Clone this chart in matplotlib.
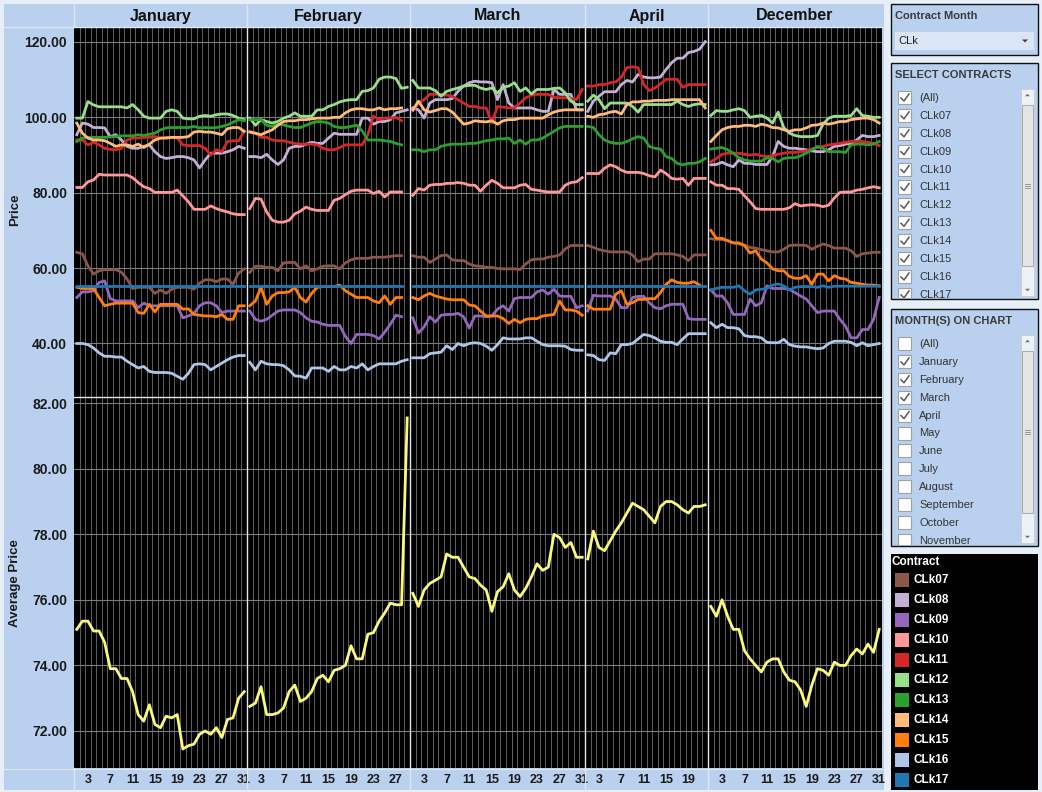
import matplotlib.pyplot as plt
from matplotlib.patches import Rectangle, Polygon
from matplotlib.lines import Line2D

plt.rcParams['font.family'] = ['Liberation Sans', 'DejaVu Sans']

# ---- data ----
months = ["January", "February", "March", "April", "December"]
month_days = [31, 29, 31, 22, 31]
contracts = ["CLk07", "CLk08", "CLk09", "CLk10", "CLk11", "CLk12",
             "CLk13", "CLk14", "CLk15", "CLk16", "CLk17"]
contract_colors = ["#8c564b", "#c5b0d5", "#9467bd", "#ff9896", "#d62728", "#98df8a",
                   "#2ca02c", "#ffbb78", "#ff7f0e", "#aec7e8", "#1f77b4"]

clk07 = {
    "January": [64.2, 63.8, 60.6, 58.4, 59.3, 59.6, 59.6, 59.6, 58.9, 57.1, 54.6, 54.9, 54.9, 54.9, 53.3, 54.2,
                53.3, 54.4, 54.9, 54.9, 54.9, 54.4, 56.0, 56.9, 56.9, 56.4, 57.1, 57.1, 55.7, 58.7, 59.8],
    "February": [58.9, 60.5, 60.5, 60.2, 60.2, 59.3, 61.4, 61.5, 61.5, 59.8, 60.6, 59.3, 59.8, 60.5, 60.6, 60.6,
                 59.8, 61.4, 62.2, 62.6, 62.6, 62.6, 62.9, 62.9, 62.9, 63.1, 63.3, 63.3],
    "March": [63.3, 62.9, 62.9, 61.5, 62.4, 63.3, 63.5, 62.2, 62.0, 62.0, 61.1, 60.6, 60.5, 60.2, 60.2, 59.9,
              59.8, 59.8, 59.8, 59.6, 61.1, 62.2, 62.4, 62.4, 62.9, 63.1, 63.5, 65.1, 66.0, 66.0, 66.0],
    "April": [66.0, 65.5, 64.9, 64.6, 64.3, 64.3, 64.3, 64.3, 63.5, 61.7, 62.4, 62.4, 63.8, 63.8, 63.8, 63.8,
              63.5, 63.1, 62.0, 63.5, 63.5, 63.5],
    "December": [67.8, 67.6, 67.6, 67.3, 66.7, 66.4, 66.1, 65.5, 65.3, 64.9, 64.6, 64.3, 64.3, 65.0, 66.0, 66.1,
                 66.1, 66.0, 65.0, 65.8, 66.4, 66.0, 65.3, 65.3, 65.3, 64.6, 63.1, 63.8, 64.0, 64.2, 64.2],
}
clk08 = {
    "January": [95.4, 98.5, 98.2, 97.3, 97.3, 97.2, 94.9, 95.4, 94.0, 92.3, 91.8, 91.8, 92.3, 92.7, 90.9, 89.6,
                89.1, 89.3, 89.6, 89.6, 89.3, 88.7, 86.6, 88.7, 90.5, 90.5, 90.5, 90.9, 91.4, 92.3, 91.8],
    "February": [89.6, 89.6, 89.3, 90.2, 88.7, 87.5, 88.7, 91.8, 92.3, 92.3, 92.9, 93.4, 93.1, 93.1, 94.5, 95.8,
                 95.5, 95.5, 95.5, 95.5, 99.8, 99.8, 98.2, 98.9, 98.9, 99.4, 101.2, 101.6, 102.0],
    "March": [102.5, 102.0, 99.8, 103.8, 104.7, 104.7, 104.7, 105.0, 106.9, 108.3, 109.2, 109.6, 109.4, 109.4,
              109.2, 104.7, 108.7, 103.8, 102.5, 102.5, 102.5, 102.5, 102.0, 101.6, 101.6, 107.4, 106.1, 106.1,
              106.1, 102.0, 102.0],
    "April": [101.6, 104.3, 105.6, 106.8, 106.8, 106.8, 108.7, 109.8, 109.4, 111.4, 110.7, 110.5, 110.5, 110.7,
              112.7, 114.5, 115.7, 115.7, 117.2, 117.5, 118.1, 120.1],
    "December": [87.4, 87.5, 88.1, 87.4, 86.9, 88.7, 87.8, 87.8, 87.5, 87.5, 87.5, 89.6, 93.6, 92.3, 91.8, 91.8,
                 91.6, 91.4, 91.1, 90.9, 90.9, 91.4, 92.3, 92.5, 92.9, 93.1, 94.0, 95.2, 94.9, 94.9, 95.2],
}
clk09 = {
    "January": [52.2, 53.7, 53.7, 54.0, 56.2, 56.6, 51.9, 51.3, 51.3, 51.3, 51.3, 49.5, 50.7, 50.0, 50.0, 50.0,
                50.0, 50.0, 50.0, 46.8, 47.3, 48.0, 50.0, 50.8, 50.8, 50.0, 48.2, 48.6, 48.6, 48.6, 48.6],
    "February": [48.6, 46.4, 45.9, 46.4, 47.5, 48.6, 48.9, 48.9, 48.9, 48.2, 46.8, 45.9, 45.7, 45.1, 44.8, 44.8,
                 44.8, 41.9, 40.0, 42.4, 42.4, 42.4, 42.1, 41.2, 43.0, 45.1, 47.5, 47.1],
    "March": [46.8, 42.8, 44.4, 47.1, 45.7, 47.5, 47.7, 47.7, 48.0, 47.1, 44.1, 47.3, 47.3, 47.1, 47.3, 49.1,
              50.0, 48.6, 51.9, 52.2, 52.2, 52.2, 53.7, 54.2, 53.1, 54.4, 52.6, 52.5, 52.5, 49.5, 50.0],
    "April": [48.6, 52.8, 52.6, 52.6, 52.6, 51.8, 49.5, 49.5, 52.2, 52.5, 52.5, 50.8, 49.5, 49.2, 50.0, 50.4,
              50.4, 50.4, 46.6, 46.4, 46.4, 46.4],
    "December": [54.2, 52.6, 52.6, 50.8, 47.7, 47.7, 47.7, 51.8, 50.0, 50.8, 55.3, 54.6, 54.6, 54.6, 54.4, 53.5,
                 52.6, 51.8, 50.0, 48.2, 48.6, 48.6, 48.6, 46.4, 44.6, 41.5, 41.5, 43.7, 43.7, 46.4, 52.2],
}
clk10 = {
    "January": [81.4, 81.4, 82.9, 83.4, 84.9, 84.7, 84.7, 84.7, 84.7, 84.7, 84.0, 82.7, 81.6, 81.1, 80.1, 80.1,
                80.1, 80.1, 80.7, 79.2, 77.6, 75.6, 75.6, 75.6, 76.5, 75.8, 75.3, 74.9, 74.4, 74.2, 74.2],
    "February": [75.8, 78.5, 78.3, 74.9, 72.7, 72.2, 72.2, 72.7, 74.4, 75.1, 76.2, 75.6, 75.3, 75.3, 75.3, 78.0,
                 78.5, 79.5, 80.4, 80.7, 80.7, 80.7, 79.8, 80.4, 78.9, 80.2, 80.2, 80.2],
    "March": [79.3, 81.1, 80.7, 82.0, 82.2, 82.2, 82.5, 82.5, 82.7, 82.5, 82.0, 82.0, 80.4, 82.0, 83.3, 82.5,
              81.3, 81.3, 81.3, 82.0, 82.2, 80.9, 80.7, 80.4, 80.2, 80.2, 80.2, 82.0, 82.7, 82.9, 84.0],
    "April": [85.1, 85.1, 85.1, 86.5, 87.4, 86.9, 86.0, 85.4, 85.4, 85.4, 85.1, 84.5, 84.2, 86.0, 85.1, 83.8,
              83.6, 83.8, 82.0, 83.8, 83.8, 83.8],
    "December": [82.9, 82.0, 82.0, 81.1, 81.1, 80.9, 79.2, 77.6, 75.8, 75.6, 75.6, 75.6, 75.6, 75.6, 76.0, 77.1,
                 76.5, 76.7, 76.8, 76.7, 76.3, 76.7, 78.6, 80.1, 80.2, 80.2, 80.7, 80.9, 81.3, 81.6, 81.3],
}
clk11 = {
    "January": [94.0, 94.0, 92.7, 93.4, 92.7, 91.8, 91.5, 91.4, 91.8, 94.0, 94.5, 94.5, 94.7, 94.7, 94.9, 94.5,
                94.7, 94.7, 94.5, 92.7, 92.5, 92.5, 92.5, 91.8, 90.0, 91.4, 90.9, 93.6, 93.8, 93.8, 96.3],
    "February": [96.3, 95.8, 94.7, 94.7, 94.0, 93.8, 93.8, 93.4, 93.1, 92.9, 92.9, 92.9, 92.7, 91.8, 91.4, 91.4,
                 92.0, 92.7, 92.7, 92.7, 92.7, 95.4, 100.3, 99.4, 99.8, 99.8, 100.0, 99.1],
    "March": [101.8, 103.8, 104.7, 106.1, 106.1, 106.1, 105.9, 105.6, 104.7, 103.8, 102.9, 102.9, 102.5, 102.5,
              98.5, 102.9, 102.7, 102.5, 102.5, 103.8, 105.2, 105.9, 106.1, 106.1, 106.1, 105.3, 105.2, 105.2,
              105.0, 104.7, 107.4],
    "April": [108.3, 108.3, 108.7, 108.7, 109.2, 109.4, 110.7, 113.2, 113.4, 113.2, 108.7, 107.1, 107.8, 108.9,
              110.1, 110.1, 110.1, 108.0, 108.7, 108.7, 108.7, 108.7],
    "December": [88.2, 89.1, 90.2, 90.5, 90.5, 90.5, 90.2, 90.0, 90.2, 89.8, 89.6, 89.8, 90.2, 90.5, 90.7, 90.7,
                 90.9, 91.1, 91.6, 92.0, 92.3, 92.7, 92.9, 93.1, 93.4, 93.6, 93.6, 93.6, 93.4, 93.1, 92.5],
}
clk12 = {
    "January": [99.8, 99.8, 104.2, 103.3, 102.8, 102.8, 102.8, 102.8, 102.8, 102.5, 103.4, 102.0, 100.3, 99.8,
                99.8, 99.8, 101.6, 102.0, 101.6, 99.8, 99.6, 99.6, 100.3, 100.5, 100.3, 100.7, 100.9, 100.9, 100.5,
                99.8, 99.4],
    "February": [99.8, 97.9, 99.4, 98.9, 98.5, 98.9, 99.8, 100.3, 101.2, 100.3, 100.3, 100.3, 102.0, 102.0, 102.9,
                 103.4, 104.1, 104.5, 104.7, 104.7, 106.9, 107.1, 107.8, 110.1, 110.7, 110.7, 110.3, 107.7, 108.0],
    "March": [109.8, 107.8, 107.8, 107.8, 107.1, 105.6, 106.9, 107.4, 107.8, 108.3, 108.5, 108.5, 107.8, 107.4,
              107.8, 106.5, 108.0, 108.3, 109.2, 106.9, 107.8, 106.2, 107.4, 107.4, 107.4, 107.7, 107.8, 106.5,
              104.3, 103.4, 103.4],
    "April": [104.3, 105.9, 104.7, 102.3, 103.8, 103.8, 103.8, 103.8, 102.9, 101.4, 103.4, 103.4, 103.4, 103.4,
              103.4, 103.4, 104.3, 103.4, 102.9, 103.4, 103.6, 103.4],
    "December": [100.5, 101.8, 101.6, 101.6, 102.0, 102.3, 101.8, 100.0, 100.3, 100.5, 99.8, 98.5, 101.4, 97.3,
                 95.8, 95.2, 94.9, 94.9, 94.9, 95.2, 98.2, 99.8, 100.3, 100.3, 100.3, 100.5, 102.3, 100.5, 100.3,
                 100.0, 100.0],
}
clk13 = {
    "January": [93.6, 94.5, 94.7, 94.7, 94.7, 94.7, 94.8, 94.9, 95.1, 95.1, 95.1, 95.4, 95.2, 95.5, 95.8, 96.7,
                97.2, 97.3, 97.3, 97.3, 97.3, 97.6, 97.2, 97.3, 97.2, 97.3, 97.6, 98.0, 98.7, 99.4, 99.1],
    "February": [99.4, 99.4, 99.4, 97.9, 97.6, 98.2, 98.0, 97.6, 97.3, 97.3, 97.9, 98.5, 98.9, 98.8, 98.5, 97.6,
                 97.3, 97.3, 97.6, 97.9, 96.4, 94.0, 94.0, 94.0, 93.8, 93.6, 93.1, 92.7],
    "March": [91.4, 91.4, 90.9, 91.4, 91.4, 92.3, 92.7, 92.9, 92.9, 92.9, 93.1, 93.1, 93.4, 93.8, 94.0, 94.3,
              94.3, 94.5, 93.1, 94.0, 92.9, 94.0, 94.0, 94.5, 95.4, 96.3, 97.2, 97.6, 97.6, 97.6, 97.6],
    "April": [97.6, 97.3, 95.4, 94.0, 93.4, 93.1, 93.1, 93.6, 94.3, 94.9, 94.5, 92.3, 91.8, 91.6, 89.6, 89.1,
              87.8, 87.4, 87.8, 87.8, 88.2, 89.1],
    "December": [91.6, 91.8, 92.0, 91.4, 90.5, 89.3, 88.7, 88.4, 88.4, 88.4, 89.3, 89.1, 88.2, 89.1, 89.3, 89.3,
                 89.8, 90.5, 91.4, 92.3, 91.8, 90.9, 90.9, 90.9, 90.7, 92.7, 92.9, 92.9, 92.7, 92.9, 93.6],
}
clk14 = {
    "January": [98.5, 95.8, 94.5, 94.0, 94.0, 93.8, 93.1, 92.3, 92.7, 92.7, 92.3, 92.9, 92.0, 92.9, 94.0, 94.5,
                94.5, 94.7, 94.7, 94.7, 94.9, 96.1, 96.3, 96.1, 96.1, 95.8, 95.4, 97.0, 97.3, 97.3, 96.3],
    "February": [96.1, 95.8, 95.4, 96.1, 96.7, 97.9, 98.9, 99.1, 99.1, 99.4, 99.4, 99.6, 99.8, 99.8, 99.8, 100.0,
                 100.0, 101.2, 102.0, 102.3, 102.3, 102.0, 102.0, 102.5, 102.0, 102.3, 102.3, 102.5],
    "March": [102.0, 104.3, 102.0, 101.4, 101.8, 102.3, 102.3, 101.4, 99.8, 98.2, 98.5, 99.1, 98.9, 98.8, 99.1,
              98.2, 99.1, 99.4, 99.4, 99.8, 99.8, 99.8, 99.8, 99.8, 100.7, 101.4, 101.8, 102.0, 102.0, 102.0, 102.0],
    "April": [100.3, 100.0, 100.7, 100.9, 101.4, 101.6, 100.9, 103.4, 104.1, 104.1, 104.3, 104.3, 104.5, 104.5,
              104.5, 104.7, 104.7, 104.7, 104.7, 104.7, 104.7, 102.5],
    "December": [93.6, 95.2, 96.7, 97.3, 97.6, 97.6, 97.9, 97.9, 97.6, 98.2, 97.9, 97.3, 97.2, 96.7, 96.3, 96.7,
                 96.7, 97.2, 97.9, 98.0, 98.5, 98.2, 98.5, 98.9, 98.9, 99.4, 99.6, 99.8, 99.8, 99.4, 98.5],
}
clk15 = {
    "January": [54.9, 54.6, 54.6, 54.6, 52.2, 50.0, 50.4, 50.7, 50.7, 50.7, 50.7, 48.2, 48.0, 50.4, 48.4, 50.4,
                50.4, 50.4, 50.4, 49.1, 49.2, 47.7, 47.5, 47.3, 47.3, 47.1, 47.7, 46.4, 46.4, 50.0, 50.0],
    "February": [50.0, 51.3, 54.9, 50.4, 52.6, 53.5, 53.5, 53.7, 54.9, 52.2, 51.0, 53.3, 54.9, 55.1, 55.1, 55.1,
                 55.5, 54.0, 53.1, 52.2, 52.2, 52.2, 51.3, 50.8, 52.6, 50.4, 52.2, 52.2],
    "March": [52.2, 51.6, 52.6, 53.3, 52.6, 52.2, 51.8, 51.6, 51.6, 51.6, 50.2, 50.0, 48.6, 47.3, 47.3, 47.3,
              46.6, 45.3, 46.4, 45.5, 46.4, 46.6, 46.6, 47.3, 47.5, 47.7, 51.3, 48.9, 48.9, 48.6, 47.5],
    "April": [50.0, 49.1, 49.1, 49.1, 49.1, 53.1, 54.0, 50.4, 50.8, 51.7, 51.7, 51.9, 51.9, 53.5, 55.7, 56.9,
              56.2, 56.0, 56.0, 56.4, 55.5],
    "December": [70.0, 67.9, 67.9, 67.3, 66.7, 66.7, 66.0, 64.0, 64.6, 62.4, 61.4, 59.8, 59.3, 59.3, 57.8, 57.3,
                 57.3, 58.0, 55.7, 58.4, 58.4, 56.6, 58.0, 57.3, 57.1, 56.2, 56.0, 55.7, 55.5, 55.5, 55.3],
}
clk16 = {
    "January": [40.0, 40.0, 39.7, 38.8, 37.5, 36.6, 36.6, 36.4, 36.4, 35.3, 34.4, 33.5, 33.9, 32.6, 32.3, 32.3,
                32.3, 32.1, 31.3, 30.5, 32.1, 34.4, 34.6, 34.4, 33.0, 33.9, 34.8, 35.7, 36.4, 36.8, 36.8],
    "February": [35.0, 33.0, 35.3, 34.6, 34.4, 34.4, 34.1, 33.0, 31.4, 31.3, 30.8, 33.5, 33.5, 33.5, 32.6, 33.9,
                 33.0, 33.0, 33.9, 33.5, 34.6, 33.0, 33.9, 34.6, 34.6, 34.6, 34.6, 35.3, 35.7],
    "March": [36.2, 36.2, 36.2, 37.3, 37.5, 37.7, 39.4, 38.4, 40.0, 39.4, 40.0, 40.2, 40.0, 39.3, 38.2, 39.7,
              41.5, 41.2, 41.2, 41.2, 41.5, 41.5, 40.6, 39.7, 39.4, 39.4, 39.4, 39.3, 38.4, 38.2, 38.2],
    "April": [37.0, 36.8, 35.7, 35.5, 37.5, 37.3, 39.7, 39.7, 40.0, 41.2, 42.4, 42.1, 41.5, 40.6, 40.3, 40.3,
              39.7, 41.2, 42.6, 42.6, 42.6, 42.6],
    "December": [45.5, 44.2, 45.1, 44.2, 44.2, 43.9, 42.1, 41.8, 41.8, 41.5, 40.3, 40.2, 40.2, 41.1, 39.7, 39.3,
                 39.1, 39.1, 38.8, 38.6, 38.8, 40.0, 40.6, 40.6, 40.6, 40.3, 39.4, 40.2, 39.4, 39.7, 40.0],
}
clk17 = {
    "January": [55.2] * 31,
    "February": [55.2] * 28,
    "March": [55.2] * 31,
    "April": [55.2] * 22,
    "December": [54.2, 54.6, 54.9, 54.9, 54.9, 55.3, 54.0, 53.1, 54.2, 54.4, 54.6, 55.5, 55.8, 55.3, 54.2, 54.9,
                 55.1, 55.1, 55.1, 54.9, 55.3, 54.9, 55.2, 55.2, 55.2, 55.2, 55.2, 55.2, 55.2, 55.2, 55.2],
}
price_series = [clk07, clk08, clk09, clk10, clk11, clk12, clk13, clk14, clk15, clk16, clk17]

avg_price = {
    "January": [75.1, 75.35, 75.35, 75.05, 75.05, 74.7, 73.9, 73.9, 73.6, 73.6, 73.2, 72.5, 72.3, 72.8, 72.2, 72.1,
                72.45, 72.4, 72.5, 71.45, 71.55, 71.6, 71.9, 72.0, 71.9, 72.1, 71.8, 72.35, 72.4, 73.0, 73.2],
    "February": [72.75, 72.85, 73.35, 72.5, 72.5, 72.55, 72.7, 73.2, 73.4, 72.9, 73.0, 73.2, 73.6, 73.7, 73.5,
                 73.85, 73.9, 74.0, 74.6, 74.2, 74.2, 74.95, 75.0, 75.35, 75.6, 75.9, 75.85, 75.85, 81.55],
    "March": [76.2, 75.8, 76.3, 76.5, 76.6, 76.7, 77.4, 77.3, 77.3, 77.0, 76.7, 76.65, 76.45, 76.3, 75.65, 76.25,
              76.4, 76.8, 76.3, 76.1, 76.35, 76.7, 77.1, 76.9, 77.0, 78.0, 77.9, 77.6, 77.75, 77.3, 77.3],
    "April": [77.25, 78.1, 77.6, 77.5, 77.8, 78.1, 78.35, 78.65, 78.95, 78.85, 78.75, 78.55, 78.35, 78.85, 79.0,
              79.0, 78.9, 78.75, 78.65, 78.85, 78.85, 78.9],
    "December": [75.8, 75.5, 76.0, 75.5, 75.1, 75.1, 74.45, 74.2, 74.0, 73.8, 74.1, 74.2, 74.2, 73.8, 73.55, 73.5,
                 73.25, 72.75, 73.4, 73.9, 73.85, 73.7, 74.1, 74.0, 74.0, 74.3, 74.5, 74.35, 74.65, 74.4, 75.1],
}

price_ticks = [40, 60, 80, 100, 120]
avg_ticks = [72, 74, 76, 78, 80, 82]

contract_list = ["(All)"] + contracts
month_list = ["(All)", "January", "February", "March", "April", "May", "June",
              "July", "August", "September", "October", "November"]
month_checked = [False, True, True, True, True, False, False, False, False, False, False, False]

# ---- figure in pixel coordinates ----
W, H = 1042, 792
panel = "#b9d1ef"
outer = "#e6eef8"
fig = plt.figure(figsize=(W / 100, H / 100), dpi=100)
fig.patch.set_facecolor(outer)


def make_rect(x0, y0, x1, y1, **kw):
    return Rectangle((x0 / W, 1 - y1 / H), (x1 - x0) / W, (y1 - y0) / H,
                     transform=fig.transFigure, **kw)


def px_rect(x0, y0, x1, y1, **kw):
    r = make_rect(x0, y0, x1, y1, **kw)
    fig.add_artist(r)
    return r


def px_text(x, y, s, **kw):
    return fig.text(x / W, 1 - y / H, s, **kw)


def px_line(xs, ys, **kw):
    ln = Line2D([x / W for x in xs], [1 - y / H for y in ys], transform=fig.transFigure, **kw)
    fig.add_artist(ln)
    return ln


def px_tri(cx, cy, up, size=3, color="#606060"):
    if up:
        pts = [(cx - size, cy + size / 2), (cx + size, cy + size / 2), (cx, cy - size / 2)]
    else:
        pts = [(cx - size, cy - size / 2), (cx + size, cy - size / 2), (cx, cy + size / 2)]
    p = Polygon([(x / W, 1 - y / H) for x, y in pts], closed=True, transform=fig.transFigure,
                fc=color, ec="none", zorder=6)
    fig.add_artist(p)


# left dashboard panel
px_rect(4, 4, 884, 790, fc=panel, ec="none", zorder=-5)

bounds = [74, 247, 410, 585, 708, 882]
top_y = (27, 397)
bot_y = (397, 768)


def add_ax(x0, x1, y0, y1):
    return fig.add_axes([x0 / W, 1 - y1 / H, (x1 - x0) / W, (y1 - y0) / H])


for i, month in enumerate(months):
    n = month_days[i]
    x0, x1 = bounds[i], bounds[i + 1]
    px_text((x0 + x1) / 2, 16, month, ha="center", va="center", fontsize=11.5,
            fontweight="bold", color="#111111")

    for row, (y0, y1) in enumerate([top_y, bot_y]):
        ax = add_ax(x0, x1, y0, y1)
        ax.set_facecolor("black")
        for s in ax.spines.values():
            s.set_visible(False)
        ax.set_xlim(0.5, n + 0.5)
        # one thin grey divider per day
        ax.set_xticks([d + 0.5 for d in range(1, n)], minor=True)
        ax.grid(which="minor", axis="x", color="#5c5c5c", lw=0.72)
        ax.tick_params(which="both", length=0)

        if row == 0:
            for c, series in enumerate(price_series):
                vals = series[month]
                ax.plot(range(1, len(vals) + 1), vals, color=contract_colors[c], lw=2.0)
            ax.set_ylim(25.8, 123.98)
            ax.set_yticks(price_ticks)
            ax.set_xticks([])
        else:
            vals = avg_price[month]
            ax.plot(range(1, len(vals) + 1), vals, color="#fbf97c", lw=2.0)
            ax.set_ylim(70.87, 82.19)
            ax.set_yticks(avg_ticks)
            ticks = list(range(3, n + 1, 4))
            ax.set_xticks(ticks)
            ax.set_xticklabels([str(t) for t in ticks], fontsize=9, fontweight="bold",
                               color="#1a1a1a")
            ax.tick_params(axis="x", pad=4)
        ax.grid(which="major", axis="y", color="#7c7c7c", lw=0.8)
        if i == 0:
            ax.set_yticklabels([f"{t:.2f}" for t in ax.get_yticks()], fontsize=10,
                               fontweight="bold", color="#1a1a1a")
            ax.tick_params(axis="y", pad=5)
        else:
            ax.tick_params(axis="y", labelleft=False)

# separators
sep = "#dfe6ee"
for xb in bounds[1:-1]:
    px_line([xb, xb], [5, 790], color=sep, lw=1.0, zorder=5)
px_line([74, 74], [5, 27], color=sep, lw=1.0, zorder=5)
px_line([74, 74], [768, 790], color=sep, lw=1.0, zorder=5)
px_line([4, 884], [27, 27], color=sep, lw=1.0, zorder=5)
px_line([74, 882], [397, 397], color="#e8e8e8", lw=1.0, zorder=5)
px_line([4, 884], [768.5, 768.5], color=sep, lw=0.8, zorder=5)

px_text(15, 210, "Price", rotation=90, ha="center", va="center", fontsize=9.5,
        fontweight="bold", color="#1a1a1a")
px_text(15, 583, "Average Price", rotation=90, ha="center", va="center", fontsize=9.5,
        fontweight="bold", color="#1a1a1a")

# ---- right side controls ----
title_col = "#3a3a3a"
item_col = "#333333"
bx0, bx1 = 891, 1038

# Contract Month dropdown
px_rect(bx0, 4, bx1, 55, fc=panel, ec="#111111", lw=1.0)
px_text(895, 16, "Contract Month", ha="left", va="center", fontsize=8, fontweight="bold",
        color=title_col)
px_rect(895, 32, 1034, 50, fc="#dae6f5", ec="none")
px_text(898, 41, "CLk", ha="left", va="center", fontsize=8, color="#222222")
px_tri(1025, 41, False, size=3, color="#404040")


def check_list(top, bottom, title, items, checked):
    px_rect(bx0, top, bx1, bottom, fc=panel, ec="#111111", lw=1.0)
    px_text(895, top + 12, title, ha="left", va="center", fontsize=8, fontweight="bold",
            color=title_col)
    clip = make_rect(bx0, top + 24, bx1, bottom - 1)
    for k, label in enumerate(items):
        y = top + 35 + k * 17.9
        cb = px_rect(898, y - 7, 911, y + 6, fc="white", ec="#a0a0a0", lw=0.8)
        cb.set_clip_path(clip)
        if checked[k]:
            ln = px_line([901, 904, 909], [y, y + 3, y - 4], color="#5a5a5a", lw=1.1, zorder=6)
            ln.set_clip_path(clip)
        t = px_text(919, y, label, ha="left", va="center", fontsize=8, color=item_col)
        t.set_clip_path(clip)
    # scrollbar
    sy0, sy1 = top + 26, bottom - 3
    px_rect(1021, sy0, 1034, sy1, fc="#eef1f5", ec="#c9cdd2", lw=0.6)
    px_tri(1027.5, sy0 + 6, True, size=2.5, color="#707070")
    px_tri(1027.5, sy1 - 6, False, size=2.5, color="#707070")
    th0, th1 = sy0 + 16, sy1 - 30
    px_rect(1022, th0, 1033, th1, fc="#e4e4e4", ec="#a9a9a9", lw=0.7)
    mid = (th0 + th1) / 2
    for dy in (-2, 0, 2):
        px_line([1025, 1030], [mid + dy, mid + dy], color="#8a8a8a", lw=0.6, zorder=6)


check_list(63, 299, "SELECT CONTRACTS", contract_list, [True] * len(contract_list))
check_list(309, 546, "MONTH(S) ON CHART", month_list, month_checked)

# colour legend
px_rect(bx0, 554, bx1, 790, fc="black", ec="none")
px_text(892, 562, "Contract", ha="left", va="center", fontsize=8.5, fontweight="bold", color="white")
for k, name in enumerate(contracts):
    y = 580 + k * 20
    px_rect(895, y - 7, 909, y + 7, fc=contract_colors[k], ec="none")
    px_text(913, y, name, ha="left", va="center", fontsize=8.5, fontweight="bold", color="white")

plt.savefig("out.png", dpi=100, facecolor=fig.get_facecolor())
